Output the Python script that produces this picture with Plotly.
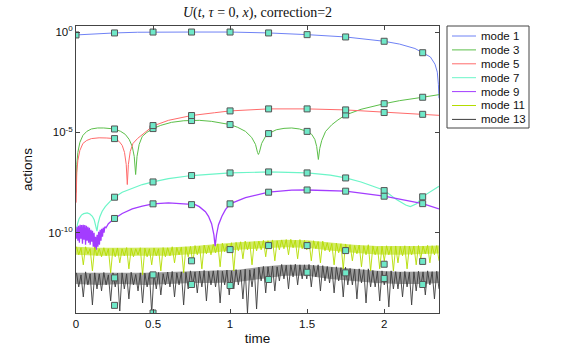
import numpy as np
import plotly.graph_objects as go

# ---------------- data (values are log10 of the action) ----------------
legend_names = ["mode 1", "mode 3", "mode 5", "mode 7", "mode 9", "mode 11", "mode 13"]
colors = ["#6f82f5", "#5cbf4a", "#ff6b6b", "#6cf5c8", "#a33cff", "#b4dc00", "#3c3c3c"]

x_ticks = [0, 0.5, 1, 1.5, 2]
x_tick_labels = ["0", "0.5", "1", "1.5", "2"]
y_ticks = [1, 1e-5, 1e-10]
y_tick_labels = ["10<sup>0</sup>", "10<sup>-5</sup>", "10<sup>-10</sup>"]

t_mode1 = [0, 0.1, 0.25, 0.4, 0.5, 0.75, 1.0, 1.25, 1.5, 1.75, 2.0, 2.1, 2.2, 2.25, 2.3, 2.33, 2.345, 2.352, 2.356]
log_mode1 = [-0.145, -0.09, -0.045, -0.01, 0.0, 0.0, 0.0, -0.045, -0.13, -0.245, -0.46, -0.6, -0.82, -1.03, -1.24, -1.6, -2.0, -2.6, -3.3]

t_mode3 = [0.001, 0.005, 0.012, 0.025, 0.045, 0.07, 0.1, 0.14, 0.18, 0.22, 0.25, 0.29, 0.32, 0.345, 0.365, 0.378,
           0.387, 0.396, 0.41, 0.43, 0.46, 0.5, 0.55, 0.62, 0.7, 0.75, 0.8, 0.88, 0.95, 1.0, 1.05, 1.1, 1.14, 1.165,
           1.178, 1.184, 1.19, 1.205, 1.23, 1.25, 1.3, 1.35, 1.4, 1.45, 1.5, 1.53, 1.55, 1.562, 1.573, 1.582, 1.595,
           1.62, 1.66, 1.7, 1.75, 1.85, 2.0, 2.1, 2.25, 2.356]
log_mode3 = [-8.0, -6.6, -6.0, -5.5, -5.15, -4.95, -4.83, -4.78, -4.78, -4.8, -4.83, -4.95, -5.1, -5.35, -5.7, -6.2,
             -7.1, -6.2, -5.6, -5.2, -5.0, -4.81, -4.65, -4.5, -4.42, -4.41, -4.4, -4.45, -4.55, -4.61, -4.75, -4.95,
             -5.25, -5.6, -6.0, -6.1, -6.0, -5.55, -5.2, -5.06, -4.87, -4.8, -4.78, -4.83, -4.95, -5.1, -5.35, -5.7,
             -6.35, -5.8, -5.4, -4.95, -4.62, -4.38, -4.13, -3.85, -3.57, -3.42, -3.25, -3.12]

t_mode5 = [0.001, 0.005, 0.012, 0.025, 0.045, 0.07, 0.1, 0.15, 0.2, 0.25, 0.28, 0.3, 0.315, 0.326, 0.333, 0.34,
           0.352, 0.37, 0.4, 0.44, 0.47, 0.5, 0.6, 0.75, 0.9, 1.0, 1.25, 1.5, 1.75, 2.0, 2.25, 2.356]
log_mode5 = [-8.5, -7.0, -6.4, -5.9, -5.55, -5.4, -5.31, -5.27, -5.28, -5.31, -5.45, -5.65, -6.0, -6.6, -7.6, -6.6,
             -5.95, -5.55, -5.3, -5.05, -4.85, -4.68, -4.4, -4.16, -4.02, -3.93, -3.83, -3.83, -3.88, -4.0, -4.1, -4.15]

t_mode7 = [0.003, 0.01, 0.02, 0.035, 0.05, 0.073, 0.09, 0.106, 0.118, 0.127, 0.136, 0.143, 0.155, 0.17, 0.19, 0.22,
           0.25, 0.3, 0.365, 0.43, 0.5, 0.6, 0.75, 0.9, 1.0, 1.25, 1.5, 1.65, 1.75, 1.85, 1.95, 2.0, 2.08, 2.14,
           2.17, 2.21, 2.25, 2.3, 2.356]
log_mode7 = [-9.9, -9.55, -9.3, -9.12, -9.05, -9.01, -9.07, -9.18, -9.35, -9.6, -9.92, -9.55, -9.2, -8.93, -8.7,
             -8.45, -8.23, -7.98, -7.77, -7.6, -7.47, -7.3, -7.15, -7.06, -7.02, -6.97, -7.02, -7.13, -7.27, -7.47,
             -7.75, -7.88, -8.35, -8.62, -8.7, -8.56, -8.2, -7.95, -7.68]

t_mode9 = [0.002, 0.007, 0.012, 0.017, 0.022, 0.027, 0.032, 0.037, 0.042, 0.047, 0.052, 0.057, 0.062, 0.067,
           0.072, 0.077, 0.082, 0.087, 0.092, 0.097, 0.102, 0.107, 0.112, 0.117, 0.122, 0.127, 0.132, 0.137,
           0.142, 0.147, 0.152, 0.157, 0.162, 0.167, 0.172, 0.177, 0.182, 0.187, 0.195, 0.21, 0.23, 0.25, 0.3,
           0.365, 0.43, 0.5, 0.6, 0.7, 0.774, 0.8, 0.84, 0.86, 0.88, 0.895, 0.903, 0.912, 0.925, 0.947, 0.97,
           1.0, 1.1, 1.25, 1.4, 1.5, 1.6, 1.75, 2.0, 2.25, 2.356]
log_mode9 = [-10.3, -9.7, -10.4, -9.65, -10.5, -9.6, -10.3, -9.62, -10.55, -9.6, -10.35, -9.62, -10.6, -9.65,
             -10.4, -9.7, -10.5, -9.75, -10.6, -9.85, -10.45, -9.9, -10.7, -10.0, -10.8, -10.2, -10.85, -10.1,
             -10.7, -9.95, -10.6, -9.85, -10.4, -9.8, -10.2, -9.75, -10.0, -9.7, -9.75, -9.55, -9.42, -9.29, -9.04,
             -8.81, -8.68, -8.56, -8.51, -8.55, -8.6, -8.7, -8.95, -9.18, -9.55, -10.1, -10.67, -10.1, -9.6, -9.18,
             -8.85, -8.56, -8.25, -7.98, -7.88, -7.87, -7.88, -7.93, -8.18, -8.55, -8.81]

# noisy modes: sampled on a regular time grid
log_mode11 = [
    -10.7, -11.1, -10.75, -11.6, -10.7, -11.05, -10.8, -11.9, -10.72, -11.15,
    -10.8, -11.2, -10.75, -11.15, -10.8, -12.0, -10.78, -11.2, -10.76, -11.5,
    -10.8, -11.15, -10.74, -11.8, -10.78, -11.2, -10.8, -11.1, -10.75, -12.1,
    -10.77, -11.2, -10.8, -11.6, -10.76, -11.15, -10.8, -11.9, -10.74, -11.2,
    -10.75, -11.15, -10.7, -11.5, -10.74, -11.1, -10.72, -12.0, -10.7, -11.2,
    -10.68, -11.5, -10.64, -11.1, -10.66, -11.8, -10.62, -11.05, -10.65, -11.1,
    -10.58, -11.0, -10.55, -11.7, -10.52, -10.95, -10.56, -11.0, -10.5, -11.9,
    -10.48, -10.9, -10.45, -11.3, -10.42, -10.85, -10.46, -11.6, -10.44, -10.9,
    -10.42, -10.85, -10.38, -11.2, -10.4, -10.8, -10.36, -11.4, -10.4, -10.85,
    -10.36, -10.8, -10.34, -11.1, -10.33, -10.75, -10.37, -11.3, -10.34, -10.8,
    -10.38, -10.85, -10.42, -11.4, -10.4, -10.8, -10.44, -11.5, -10.42, -10.9,
    -10.5, -10.95, -10.54, -11.6, -10.52, -11.0, -10.55, -11.8, -10.56, -11.0,
    -10.6, -11.4, -10.64, -11.05, -10.62, -11.7, -10.65, -11.1, -10.6, -11.9,
    -10.66, -11.1, -10.7, -11.8, -10.67, -11.4, -10.65, -11.1, -10.68, -11.9,
    -10.66, -11.5, -10.68, -11.15, -10.65, -11.8, -10.67, -11.1, -10.66, -11.6,
    -10.64, -11.3, -10.66, -11.05, -10.63, -11.5, -10.65, -11.1, -10.64, -11.4]
log_mode13 = [
    -12.0, -12.7, -12.1, -13.2, -11.95, -12.6, -12.05, -13.6, -12.0, -12.8,
    -12.05, -12.9, -11.98, -12.6, -12.1, -13.4, -12.0, -12.7, -12.02, -13.9,
    -12.0, -12.8, -12.05, -13.3, -11.97, -12.6, -12.08, -12.9, -12.0, -13.5,
    -12.02, -12.7, -12.0, -14.0, -12.05, -12.8, -11.98, -13.1, -12.04, -12.6,
    -11.96, -12.7, -11.93, -13.2, -12.0, -12.6, -11.95, -13.6, -11.97, -12.8,
    -11.9, -12.6, -11.95, -13.0, -11.92, -12.7, -11.88, -13.4, -11.93, -12.6,
    -11.9, -12.7, -11.88, -13.5, -11.92, -12.6, -11.86, -13.1, -11.9, -12.8,
    -11.84, -12.6, -11.86, -13.3, -11.82, -14.0, -11.85, -12.7, -11.8, -13.8,
    -11.72, -12.4, -11.68, -13.0, -11.7, -12.5, -11.66, -12.9, -11.7, -12.4,
    -11.58, -12.3, -11.62, -12.8, -11.6, -12.2, -11.57, -12.6, -11.6, -12.3,
    -11.6, -12.3, -11.58, -12.7, -11.62, -12.2, -11.6, -12.9, -11.64, -12.4,
    -11.68, -12.5, -11.72, -13.0, -11.7, -12.4, -11.74, -13.2, -11.72, -12.6,
    -11.78, -12.6, -11.82, -13.3, -11.8, -12.5, -11.84, -13.5, -11.8, -12.7,
    -11.88, -12.7, -11.92, -13.4, -11.9, -12.6, -11.94, -13.7, -11.9, -12.8,
    -11.94, -12.8, -11.96, -13.2, -11.93, -12.7, -11.97, -13.6, -11.95, -12.9,
    -11.92, -12.7, -11.95, -13.1, -11.9, -12.6, -11.94, -13.3, -11.92, -12.8]

# dense core of the noisy bands (upper / lower envelope)
t_band = [0, 0.15, 0.3, 0.45, 0.6, 0.75, 0.9, 1.05, 1.2, 1.35, 1.5, 1.65, 1.8, 1.95, 2.1, 2.25, 2.356]
upper_mode11 = [-10.7, -10.75, -10.75, -10.75, -10.74, -10.68, -10.58, -10.47, -10.41, -10.35, -10.37, -10.48, -10.6, -10.66, -10.67, -10.66, -10.64]
lower_mode11 = [-11.1, -11.15, -11.15, -11.15, -11.15, -11.08, -10.98, -10.85, -10.78, -10.72, -10.75, -10.88, -11.0, -11.08, -11.1, -11.06, -11.04]
upper_mode13 = [-12.0, -12.0, -12.0, -12.0, -11.96, -11.93, -11.9, -11.84, -11.7, -11.6, -11.6, -11.7, -11.8, -11.9, -11.95, -11.95, -11.93]
lower_mode13 = [-12.55, -12.6, -12.55, -12.6, -12.55, -12.5, -12.5, -12.45, -12.3, -12.15, -12.15, -12.3, -12.4, -12.5, -12.55, -12.55, -12.5]

# square markers (reference values) every 0.25
t_marks = [0.25, 0.5, 0.75, 1.0, 1.25, 1.5, 1.75, 2.0, 2.25]
marks_mode1 = [-0.045, 0.0, 0.0, 0.0, -0.045, -0.13, -0.245, -0.46, -1.03]
marks_mode3 = [-4.83, -4.81, -4.41, -4.61, -5.06, -4.95, -4.13, -3.57, -3.25]
marks_mode5 = [-5.31, -4.66, -4.16, -3.93, -3.83, -3.83, -3.88, -4.01, -4.1]
marks_mode7 = [-8.23, -7.47, -7.15, -7.02, -6.97, -7.02, -7.27, -7.9, -8.21]
marks_mode9 = [-9.29, -8.56, -8.6, -8.56, -7.98, -7.87, -7.93, -8.18, -8.55]
marks_mode11 = [-12.25, -12.1, -11.4, -10.84, -10.64, -10.64, -10.89, -11.57, -11.43]
marks_mode13 = [-13.62, -14.0, -12.58, -12.63, -12.33, -11.97, -12.0, -12.28, -12.58]
mark_mode1_t0 = -0.145

T_END = 2.356
t_noise = np.linspace(0.003, T_END, len(log_mode11))


def val(a):
    return [10.0 ** v for v in a]


fig = go.Figure()

# noisy band cores
for up, lo, c, op in [(upper_mode11, lower_mode11, colors[5], 0.6), (upper_mode13, lower_mode13, colors[6], 0.5)]:
    fig.add_trace(go.Scatter(x=t_band + t_band[::-1], y=val(up) + val(lo[::-1]), fill="toself",
                             fillcolor=c, line=dict(width=0), opacity=op, mode="lines",
                             showlegend=False, hoverinfo="skip"))

series = [(t_mode1, log_mode1), (t_mode3, log_mode3), (t_mode5, log_mode5), (t_mode7, log_mode7),
          (t_mode9, log_mode9), (list(t_noise), log_mode11), (list(t_noise), log_mode13)]
widths = [1, 1, 1, 1.2, 1.3, 0.9, 0.9]
for i, (tt, yy) in enumerate(series):
    fig.add_trace(go.Scatter(x=tt, y=val(yy), mode="lines", name=legend_names[i],
                             line=dict(color=colors[i], width=widths[i]), showlegend=False))

marker_style = dict(symbol="square", size=6, color="#6fe8c8", line=dict(color="#555555", width=1))
all_marks = [marks_mode1, marks_mode3, marks_mode5, marks_mode7, marks_mode9, marks_mode11, marks_mode13]
for i, m in enumerate(all_marks):
    tt = list(t_marks)
    mm = list(m)
    if i == 0:
        tt = [0.0] + tt
        mm = [mark_mode1_t0] + mm
    fig.add_trace(go.Scatter(x=tt, y=val(mm), mode="markers", marker=marker_style,
                             showlegend=False, hoverinfo="skip"))

# ---------------- legend (drawn as box + line samples + text) ----------------
PL, PR, PT, PB = 76, 439, 26, 313   # plot area in pixels
W, H = PR - PL, PB - PT


def px_x(x):
    return (x - PL) / W


def px_y(y):
    return (PB - y) / H


shapes = [dict(type="rect", xref="paper", yref="paper", x0=px_x(447), x1=px_x(529), y0=px_y(128), y1=px_y(26),
               line=dict(color="#444444", width=1), fillcolor="white", layer="above")]
annotations = []
for i, name in enumerate(legend_names):
    yc = 36 + 13.9 * i
    shapes.append(dict(type="line", xref="paper", yref="paper", x0=px_x(452), x1=px_x(476),
                       y0=px_y(yc), y1=px_y(yc), line=dict(color=colors[i], width=1), layer="above"))
    annotations.append(dict(text=name, xref="paper", yref="paper", x=px_x(478.5), y=px_y(yc),
                            xanchor="left", yanchor="middle", showarrow=False,
                            font=dict(family="Liberation Sans", size=11.5, color="#111111")))

axis_common = dict(showline=True, linecolor="#444444", linewidth=1, mirror="ticks", ticks="inside",
                   ticklen=4, tickcolor="#444444", showgrid=False, zeroline=False,
                   tickfont=dict(family="Liberation Sans", size=11.5, color="#111111"))

fig.update_layout(
    width=586, height=353,
    margin=dict(l=PL, r=586 - PR, t=PT, b=353 - PB, autoexpand=False),
    paper_bgcolor="white", plot_bgcolor="white",
    title=dict(text="<i>U</i>(<i>t</i>, <i>τ</i> = 0, <i>x</i>), correction=2",
               x=0.5, xref="paper", xanchor="center", y=1 - 12 / 353, yref="container", yanchor="middle",
               font=dict(family="Liberation Serif", size=14, color="#111111")),
    xaxis=dict(range=[0, T_END], tickvals=x_ticks, ticktext=x_tick_labels,
               title=dict(text="time", font=dict(family="Liberation Sans", size=13.5, color="#111111"), standoff=4),
               **axis_common),
    yaxis=dict(type="log", range=[-14, 0.301], tickvals=y_ticks, ticktext=y_tick_labels,
               title=dict(text="actions", font=dict(family="Liberation Sans", size=13.5, color="#111111"), standoff=12),
               **axis_common),
    shapes=shapes,
    annotations=annotations,
    showlegend=False,
)

fig.write_html("out.html", config={"displayModeBar": False},
               post_script="document.body.style.margin='0px';")
